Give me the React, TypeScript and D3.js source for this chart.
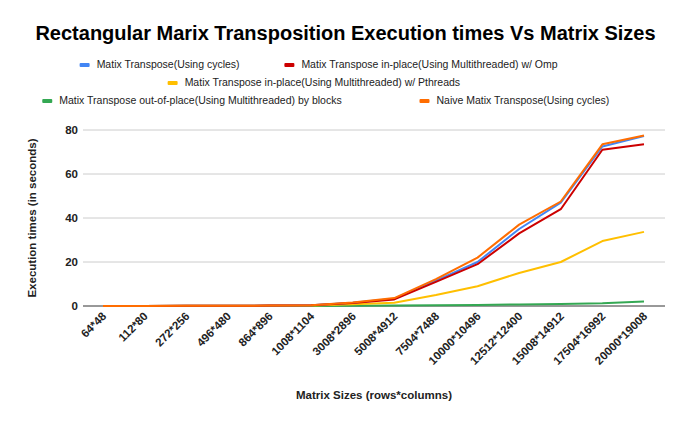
import React from "react";
import * as d3 from "d3";

const categories = ["64*48","112*80","272*256","496*480","864*896","1008*1104","3008*2896","5008*4912","7504*7488","10000*10496","12512*12400","15008*14912","17504*16992","20000*19008"];
const cycles = [0,0,0.1,0.1,0.2,0.3,1.5,3.3,11.5,20,35,47,72.5,77.3];
const omp = [0,0,0.1,0.1,0.2,0.3,1.4,3,11,19,33,44,71,73.5];
const pthreads = [0,0,0.1,0.1,0.1,0.2,0.8,1.5,5,9,15,20,29.5,33.7];
const blocks = [0,0,0,0,0,0,0.1,0.2,0.3,0.5,0.7,0.9,1.2,2];
const naive = [0,0,0.1,0.1,0.2,0.3,1.6,3.6,12.2,22,37,47.5,73.5,77.5];
const yTicks = [0,20,40,60,80];

const series = [
  { name: "Matix Transpose(Using cycles)", color: "#4285f4", data: cycles },
  { name: "Matix Transpose in-place(Using Multithreaded) w/ Omp", color: "#cc0000", data: omp },
  { name: "Matix Transpose in-place(Using Multithreaded) w/ Pthreads", color: "#ffbf00", data: pthreads },
  { name: "Matix Transpose out-of-place(Using Multithreaded) by blocks", color: "#34a853", data: blocks },
  { name: "Naive Matix Transpose(Using cycles)", color: "#ff6d01", data: naive },
];
const legendRows = [[0,1],[2],[3,4]];

export default function App() {
  const W = 687, H = 424;
  const x = d3.scalePoint<string>().domain(categories).range([103, 644]);
  const y = d3.scaleLinear().domain([0, 80]).range([306, 130]);
  const line = d3.line<number>().x((_, i) => x(categories[i])!).y(d => y(d));
  const font = "Arial, 'Liberation Sans', sans-serif";
  const legendItemWidth = (s: string) => s.length * 5.75 + 24;
  return (
    <svg width={W} height={H} style={{ position: "absolute", left: 0, top: 0, background: "#fff" }} fontFamily={font}>
      <text x={W / 2 + 2} y={40} textAnchor="middle" fontSize={20} fontWeight="bold">Rectangular Marix Transposition Execution times Vs Matrix Sizes</text>
      {legendRows.map((row, ri) => {
        const widths = row.map(i => legendItemWidth(series[i].name));
        const gap = 14;
        const total = d3.sum(widths) + gap * (row.length - 1);
        let cx = W / 2 - total / 2;
        return row.map((i, k) => {
          const x0 = cx; cx += widths[k] + gap;
          const yy = 66 + ri * 18;
          return (
            <g key={i}>
              <rect x={x0} y={yy - 3} width={10} height={4} fill={series[i].color} rx={1} />
              <text x={x0 + 17} y={yy + 2} fontSize={10.5} fill="#222">{series[i].name}</text>
            </g>
          );
        });
      })}
      {yTicks.map(t => (
        <g key={t}>
          <line x1={83} x2={665} y1={y(t)} y2={y(t)} stroke={t === 0 ? "#333" : "#ccc"} />
          <text x={78} y={y(t) + 4} textAnchor="end" fontSize={11.5} fontWeight="bold" fill="#222">{t}</text>
        </g>
      ))}
      {categories.map(c => (
        <text key={c} transform={`translate(${x(c)! + 4},${317}) rotate(-45)`} textAnchor="end" fontSize={11.5} fontWeight="bold" fill="#222">{c}</text>
      ))}
      {[3, 2, 0, 1, 4].map(i => (
        <path key={i} d={line(series[i].data)!} fill="none" stroke={series[i].color} strokeWidth={2} strokeLinejoin="round" />
      ))}
      <text x={374} y={399} textAnchor="middle" fontSize={11.5} fontWeight="bold" fill="#222">Matrix Sizes (rows*columns)</text>
      <text transform={`translate(36,218) rotate(-90)`} textAnchor="middle" fontSize={11.5} fontWeight="bold" fill="#222">Execution times (in seconds)</text>
    </svg>
  );
}
